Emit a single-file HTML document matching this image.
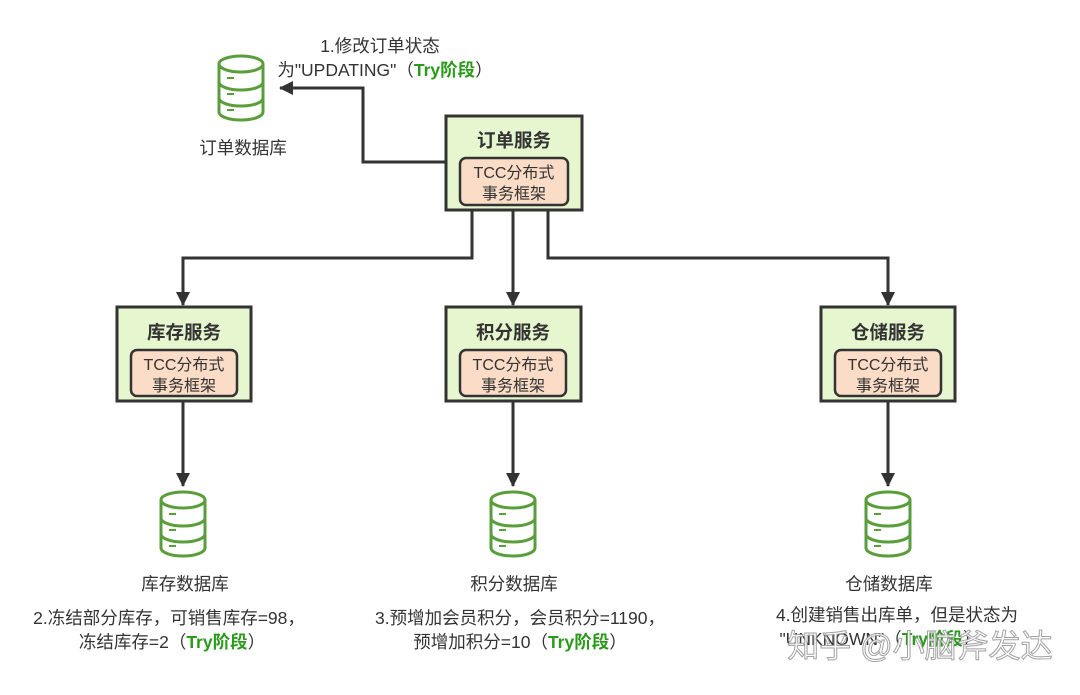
<!DOCTYPE html>
<html><head><meta charset="utf-8"><style>
body{margin:0;background:#fff;}
svg text{font-family:"Liberation Sans","Noto Sans CJK SC",sans-serif;}
</style></head><body>
<svg width="1080" height="690" viewBox="0 0 1080 690" xmlns="http://www.w3.org/2000/svg">
<defs>
<marker id="a" markerWidth="14" markerHeight="14" refX="13" refY="7" orient="auto" markerUnits="userSpaceOnUse">
<path d="M0,0 L14,7 L0,14 z" fill="#333"/>
</marker>
<g id="db">
<path d="M0,8 A22,8 0 0 1 44,8 L44,56 A22,8 0 0 1 0,56 Z" fill="#fff" stroke="#5a9e3c" stroke-width="3"/>
<path d="M0,8 A22,8 0 0 0 44,8 M0,26 A22,8 0 0 0 44,26 M0,42 A22,8 0 0 0 44,42" fill="none" stroke="#5a9e3c" stroke-width="3"/>
<path d="M8,22h7M8,38h7M8,54h7" stroke="#5a9e3c" stroke-width="2"/>
</g>
</defs>
<g stroke="#333" stroke-width="3" fill="none">
<path d="M446,162 H363 V88 H280" marker-end="url(#a)"/>
<path d="M472,210 V258 H183 V305" marker-end="url(#a)"/>
<path d="M513,210 V305" marker-end="url(#a)"/>
<path d="M548,210 V258 H888 V305" marker-end="url(#a)"/>
<path d="M183,401 V486" marker-end="url(#a)"/>
<path d="M513,401 V486" marker-end="url(#a)"/>
<path d="M888,401 V486" marker-end="url(#a)"/>
</g>
<g font-size="17.5" fill="#333" text-anchor="middle">
<g>
<rect x="446" y="116" width="136" height="94" fill="#e6f7cf" stroke="#333" stroke-width="3"/>
<text x="514" y="147" font-weight="bold" font-size="18.5">订单服务</text>
<rect x="460" y="158" width="108" height="47" rx="6" fill="#fbdcc6" stroke="#333" stroke-width="2.5"/>
<text x="514" y="178" font-size="16">TCC分布式</text><text x="514" y="199" font-size="16">事务框架</text>
</g>
<g>
<rect x="117" y="307" width="134" height="94" fill="#e6f7cf" stroke="#333" stroke-width="3"/>
<text x="184" y="339" font-weight="bold" font-size="18.5">库存服务</text>
<rect x="131" y="350" width="106" height="46" rx="6" fill="#fbdcc6" stroke="#333" stroke-width="2.5"/>
<text x="184" y="370" font-size="16">TCC分布式</text><text x="184" y="391" font-size="16">事务框架</text>
</g>
<g>
<rect x="446" y="307" width="135" height="94" fill="#e6f7cf" stroke="#333" stroke-width="3"/>
<text x="513" y="339" font-weight="bold" font-size="18.5">积分服务</text>
<rect x="460" y="350" width="106" height="46" rx="6" fill="#fbdcc6" stroke="#333" stroke-width="2.5"/>
<text x="513" y="370" font-size="16">TCC分布式</text><text x="513" y="391" font-size="16">事务框架</text>
</g>
<g>
<rect x="821" y="307" width="134" height="94" fill="#e6f7cf" stroke="#333" stroke-width="3"/>
<text x="888" y="339" font-weight="bold" font-size="18.5">仓储服务</text>
<rect x="835" y="350" width="106" height="46" rx="6" fill="#fbdcc6" stroke="#333" stroke-width="2.5"/>
<text x="888" y="370" font-size="16">TCC分布式</text><text x="888" y="391" font-size="16">事务框架</text>
</g>
<use href="#db" x="219" y="56"/>
<use href="#db" x="161" y="492"/>
<use href="#db" x="491" y="492"/>
<use href="#db" x="866" y="492"/>
<text x="243" y="154">订单数据库</text>
<text x="185" y="590">库存数据库</text>
<text x="514" y="590">积分数据库</text>
<text x="889" y="590">仓储数据库</text>
<text x="380" y="52">1.修改订单状态</text>
<text x="385" y="76">为"UPDATING"（<tspan fill="#2a9a1a" font-weight="bold">Try阶段</tspan>）</text>
<text x="169" y="624">2.冻结部分库存，可销售库存=98，</text>
<text x="172" y="648">冻结库存=2（<tspan fill="#2a9a1a" font-weight="bold">Try阶段</tspan>）</text>
<text x="520" y="624">3.预增加会员积分，会员积分=1190，</text>
<text x="520" y="648">预增加积分=10（<tspan fill="#2a9a1a" font-weight="bold">Try阶段</tspan>）</text>
<text x="897" y="621">4.创建销售出库单，但是状态为</text>
<text x="880" y="645">"UNKNOWN"（<tspan fill="#2a9a1a" font-weight="bold">Try阶段</tspan>）</text>
<text x="920" y="657" font-size="32" fill="#fff" stroke="#999" stroke-width="1" opacity="0.9">知乎 @小脑斧发达</text>
</g>
</svg>
</body></html>
